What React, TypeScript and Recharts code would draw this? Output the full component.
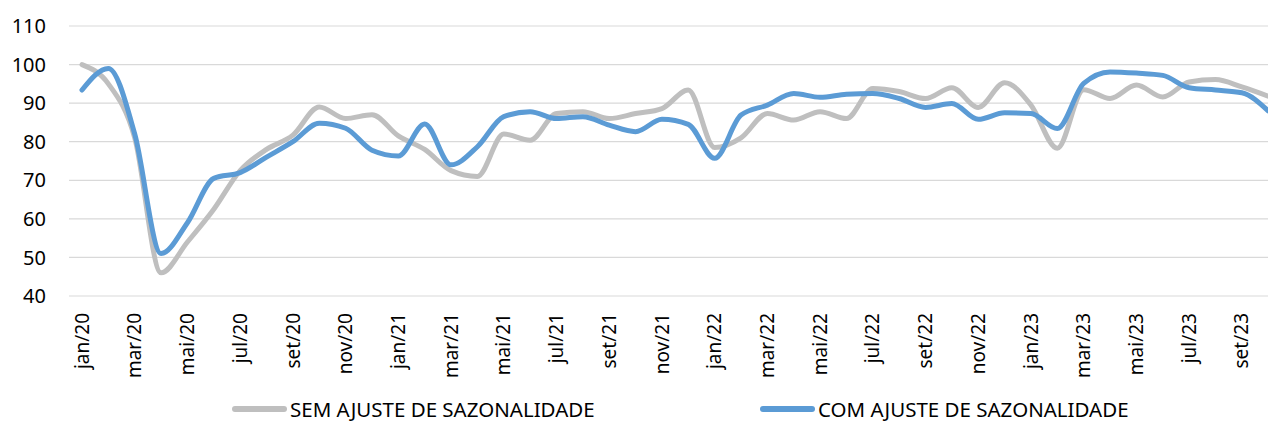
import React from 'react';
import { LineChart, Line, XAxis, YAxis, CartesianGrid, Legend } from 'recharts';

const months = [
  'jan/20','fev/20','mar/20','abr/20','mai/20','jun/20','jul/20','ago/20','set/20','out/20','nov/20','dez/20',
  'jan/21','fev/21','mar/21','abr/21','mai/21','jun/21','jul/21','ago/21','set/21','out/21','nov/21','dez/21',
  'jan/22','fev/22','mar/22','abr/22','mai/22','jun/22','jul/22','ago/22','set/22','out/22','nov/22','dez/22',
  'jan/23','fev/23','mar/23','abr/23','mai/23','jun/23','jul/23','ago/23','set/23','out/23',
];

const semAjuste = [
  100, 95, 81, 46, 54, 62.5, 72.5, 78, 81.7, 89, 86, 87,
  81.5, 78, 72.5, 71, 82, 80.4, 87.3, 87.8, 86, 87.3, 88.6, 93.4,
  78.5, 81, 87.3, 85.6, 87.8, 86, 93.8, 93, 91.2, 94, 88.9, 95.3,
  89.5, 78.3, 93.5, 91.2, 94.7, 91.6, 95.5, 96.1, 94.2, 91.8,
];

const comAjuste = [
  93.4, 99, 82, 51, 59, 70.5, 72, 76, 80, 84.8, 83.5, 77.8,
  76.3, 84.6, 74, 78.7, 86.5, 87.8, 86, 86.5, 84.3, 82.6, 85.8, 84.5,
  75.7, 86.9, 89.5, 92.5, 91.5, 92.3, 92.5, 91.2, 88.9, 89.9, 85.8, 87.5,
  87.3, 83.4, 95.1, 98.1, 97.8, 97.2, 94, 93.4, 92.7, 88,
];

const yTicks = [40, 50, 60, 70, 80, 90, 100, 110];

const SEM_LABEL = 'SEM AJUSTE DE SAZONALIDADE';
const COM_LABEL = 'COM AJUSTE DE SAZONALIDADE';
const legendOrder = [SEM_LABEL, COM_LABEL];
const GRAY = '#BFBFBF';
const BLUE = '#5B9BD5';
const FONT = '"Noto Sans", sans-serif';

const data = months.map((m, i) => ({ month: m, sem: semAjuste[i], com: comAjuste[i] }));

const XTick = (props: any) => {
  const { x, y, payload } = props;
  return (
    <g transform={`translate(${x},${y + 17})`}>
      <text transform="rotate(-90)" textAnchor="end" dy="0.35em" fill="#000" fontSize={19} fontFamily={FONT}>
        {payload.value}
      </text>
    </g>
  );
};

const renderLegend = (props: any) => {
  const items = [...(props.payload || [])].sort(
    (a: any, b: any) => legendOrder.indexOf(a.value) - legendOrder.indexOf(b.value)
  );
  const lefts = [232, 760];
  return (
    <div style={{ position: 'relative', height: 30, width: 1268, lineHeight: '20px' }}>
      {items.map((it: any, i: number) => (
        <div
          key={it.value}
          style={{
            position: 'absolute',
            left: lefts[i],
            top: 0,
            display: 'flex',
            alignItems: 'center',
            height: 28,
            fontFamily: FONT,
            fontSize: 20.5,
            lineHeight: '28px',
            color: '#000',
            whiteSpace: 'nowrap',
          }}
        >
          <span style={{ display: 'inline-block', width: 55, height: 6, borderRadius: 3, background: it.color, marginRight: 3 }} />
          <span>{it.value}</span>
        </div>
      ))}
    </div>
  );
};

export default function App() {
  return (
    <div style={{ position: 'fixed', left: 0, top: 0, width: 1268, height: 425, overflow: 'hidden', background: '#fff' }}>
      <LineChart width={1282} height={425} data={data} margin={{ top: 26, right: 0, bottom: 0, left: 0 }}>
        <CartesianGrid vertical={false} stroke="#D9D9D9" strokeWidth={1.2} />
        <XAxis
          dataKey="month"
          interval={1}
          axisLine={false}
          tickLine={false}
          tickSize={0}
          tickMargin={0}
          height={99}
          padding={{ left: 13, right: 13.8 }}
          tick={<XTick />}
        />
        <YAxis
          domain={[40, 110]}
          ticks={yTicks}
          axisLine={false}
          tickLine={false}
          tickSize={0}
          tickMargin={23}
          width={69}
          tick={{ fill: '#000', fontSize: 20, fontFamily: FONT }}
        />
        <Legend verticalAlign="bottom" height={30} content={renderLegend} wrapperStyle={{ left: 0, width: 1268, bottom: 0 }} />
        <Line
          type="monotone"
          dataKey="sem"
          name={SEM_LABEL}
          stroke={GRAY}
          strokeWidth={5}
          dot={false}
          strokeLinecap="round"
          strokeLinejoin="round"
          isAnimationActive={false}
        />
        <Line
          type="monotone"
          dataKey="com"
          name={COM_LABEL}
          stroke={BLUE}
          strokeWidth={5}
          dot={false}
          strokeLinecap="round"
          strokeLinejoin="round"
          isAnimationActive={false}
        />
      </LineChart>
    </div>
  );
}
